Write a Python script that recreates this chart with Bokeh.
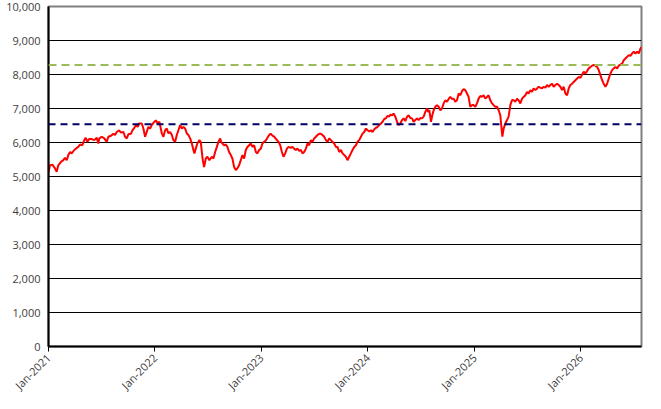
import math
from datetime import datetime, timedelta
from bokeh.plotting import figure
from bokeh.models import Range1d, FixedTicker, NumeralTickFormatter, Span, DatetimeTickFormatter
from bokeh.embed import file_html
from bokeh.resources import INLINE

# positions, in years after 1 Jan 2021
t_years = [
    0.000, 0.014, 0.036, 0.061, 0.077, 0.092, 0.117, 0.139, 0.155, 0.171, 0.186, 0.202, 0.218, 0.242,
    0.265, 0.280, 0.296, 0.318, 0.336, 0.350, 0.365, 0.381, 0.406, 0.430, 0.453, 0.468, 0.477, 0.500,
    0.524, 0.547, 0.562, 0.587, 0.609, 0.625, 0.641, 0.663, 0.681, 0.703, 0.719, 0.735, 0.750, 0.775,
    0.788, 0.806, 0.820, 0.838, 0.851, 0.876, 0.891, 0.907, 0.923, 0.938, 0.954, 0.970, 0.989, 1.008,
    1.026, 1.041,
    1.064, 1.079, 1.095, 1.111, 1.126, 1.142, 1.158, 1.173, 1.189, 1.205, 1.220, 1.236, 1.252, 1.267,
    1.283, 1.299, 1.314, 1.330, 1.346, 1.361, 1.370, 1.383, 1.398, 1.417, 1.430, 1.440, 1.449, 1.461,
    1.477, 1.492, 1.511, 1.534, 1.549, 1.565, 1.581, 1.596, 1.612, 1.621, 1.633, 1.649, 1.665, 1.680,
    1.696, 1.712, 1.727, 1.743, 1.759, 1.774, 1.790, 1.806, 1.821, 1.837, 1.853, 1.868, 1.884, 1.900,
    1.915, 1.931, 1.947, 1.962, 1.978, 1.994, 2.009, 2.025, 2.041, 2.056, 2.072, 2.086, 2.103, 2.119,
    2.135, 2.160, 2.176, 2.192, 2.207, 2.223, 2.239, 2.254, 2.276, 2.291, 2.307, 2.323, 2.338, 2.354,
    2.370, 2.385, 2.401, 2.417, 2.432, 2.448, 2.464, 2.479, 2.495, 2.511, 2.526, 2.542, 2.558, 2.573,
    2.589, 2.605, 2.620, 2.636, 2.652, 2.667, 2.683, 2.699, 2.714, 2.730, 2.746, 2.761, 2.777, 2.793,
    2.808, 2.824, 2.840, 2.855, 2.871, 2.887, 2.902, 2.918, 2.934, 2.949, 2.965, 2.981, 2.996, 3.012,
    3.028, 3.043, 3.059, 3.075, 3.090, 3.106, 3.122, 3.137, 3.153, 3.169, 3.184, 3.200,
    3.210, 3.226, 3.241, 3.257, 3.273, 3.288, 3.304, 3.320, 3.335, 3.351, 3.367, 3.382, 3.398, 3.414,
    3.429, 3.445, 3.461, 3.476, 3.492, 3.508, 3.523, 3.539, 3.555, 3.564, 3.576, 3.592, 3.604, 3.617,
    3.633, 3.648, 3.664, 3.680, 3.695, 3.711, 3.726, 3.742, 3.758, 3.773, 3.789, 3.805, 3.820, 3.836,
    3.852, 3.868, 3.883, 3.898, 3.914, 3.930, 3.945, 3.961, 3.977, 3.992, 4.008, 4.024, 4.039, 4.055,
    4.071, 4.086, 4.102, 4.118, 4.133, 4.149, 4.165, 4.180, 4.196, 4.212, 4.227, 4.243, 4.253, 4.262,
    4.274, 4.290, 4.306, 4.321, 4.337, 4.353, 4.368, 4.383,
    4.400, 4.415, 4.431, 4.447, 4.462, 4.478, 4.494, 4.509, 4.525, 4.541, 4.556, 4.572, 4.588, 4.603,
    4.619, 4.635, 4.650, 4.666, 4.682, 4.697, 4.713, 4.729, 4.744, 4.760, 4.776, 4.791, 4.807, 4.823,
    4.838, 4.854, 4.870, 4.885, 4.901, 4.917, 4.932, 4.948, 4.964, 4.979, 4.995, 5.011, 5.026, 5.042,
    5.058, 5.073, 5.089, 5.105, 5.120, 5.136, 5.152, 5.167, 5.183, 5.199, 5.214, 5.230, 5.246, 5.261,
    5.277, 5.293, 5.308, 5.324, 5.340, 5.355, 5.371, 5.387, 5.402, 5.418, 5.434, 5.449, 5.465, 5.481,
    5.496, 5.512, 5.528, 5.543, 5.559, 5.568,
]

values = [
    5120, 5330, 5350, 5240, 5140, 5330, 5430, 5480, 5550, 5480, 5630, 5720, 5680, 5780,
    5840, 5870, 5940, 5920, 6070, 6140, 6020, 6100, 6100, 6070, 6140, 5970, 6120, 6170,
    6120, 6020, 6170, 6200, 6260, 6220, 6310, 6360, 6290, 6310, 6170, 6120, 6240, 6260,
    6360, 6430, 6510, 6460, 6560, 6560, 6410, 6170, 6310, 6460, 6410, 6510, 6590, 6650,
    6560, 6610,
    6270, 6170, 6360, 6410, 6270, 6310, 6220, 6070, 6020, 6220, 6360, 6510, 6410, 6460,
    6410, 6270, 6220, 6120, 5970, 5780, 5680, 5820, 5970, 6070, 6020, 5720, 5480, 5280,
    5530, 5580, 5480, 5580, 5530, 5720, 5870, 6020, 6120, 6020, 5970, 5920, 5940, 5870,
    5720, 5630, 5530, 5280, 5190, 5240, 5330, 5480, 5630, 5530, 5780, 5870, 5920, 5970,
    5870, 5920, 5720, 5680, 5780, 5820, 5970, 6020, 6060, 6140, 6220, 6260, 6200, 6170,
    6110, 6020, 5920, 5720, 5580, 5680, 5820, 5870, 5840, 5870, 5820, 5780, 5820, 5750,
    5780, 5680, 5720, 5820, 5970, 5920, 6070, 6020, 6120, 6170, 6220, 6260, 6260, 6220,
    6170, 6070, 6020, 6120, 6070, 6020, 5970, 5870, 5870, 5720, 5780, 5680, 5630, 5580,
    5480, 5580, 5680, 5780, 5870, 5920, 6020, 6070, 6170, 6260, 6310, 6410, 6360, 6330,
    6360, 6310, 6390, 6430, 6460, 6510, 6560, 6610, 6690, 6720, 6780, 6760,
    6820, 6800, 6850, 6760, 6610, 6510, 6560, 6660, 6710, 6630, 6760, 6800, 6720, 6710,
    6610, 6660, 6710, 6660, 6720, 6710, 6760, 6900, 7000, 6900, 6950, 6610, 6800, 6950,
    7050, 7100, 7050, 6950, 7000, 7150, 7240, 7200, 7280, 7340, 7280, 7290, 7200, 7240,
    7440, 7390, 7510, 7570, 7540, 7440, 7340, 7050, 7100, 7100, 7050, 7150, 7290, 7370,
    7340, 7390, 7290, 7340, 7390, 7240, 7150, 7100, 7050, 7050, 6950, 6800, 6460, 6170,
    6410, 6560, 6660, 6760, 7100, 7250, 7240, 7200,
    7290, 7240, 7150, 7290, 7340, 7390, 7490, 7440, 7540, 7490, 7590, 7540, 7590, 7640,
    7610, 7590, 7640, 7610, 7690, 7640, 7690, 7730, 7640, 7690, 7730, 7690, 7640, 7540,
    7640, 7440, 7390, 7590, 7690, 7730, 7780, 7830, 7880, 7930, 7900, 8000, 8080, 8030,
    8100, 8180, 8220, 8260, 8280, 8260, 8220, 8130, 7980, 7830, 7730, 7640, 7730, 7880,
    8030, 8130, 8180, 8220, 8180, 8260, 8290, 8320, 8420, 8470, 8520, 8570, 8550, 8620,
    8670, 8620, 8670, 8620, 8760, 8810,
]

upper_level = 8280
mean_level = 6540

y_ticks = list(range(0, 10001, 1000))
grid_levels = list(range(1000, 10000, 1000))
x_tick_years = [2021, 2022, 2023, 2024, 2025, 2026]

epoch = datetime(1970, 1, 1)
start = datetime(2021, 1, 1)
dates = [start + timedelta(days=t * 365.25) for t in t_years]
x_ticks_ms = [(datetime(y, 1, 1) - epoch).total_seconds() * 1000 for y in x_tick_years]

p = figure(width=655, height=401, x_axis_type="datetime",
           output_backend="svg", toolbar_location=None,
           x_range=Range1d(start, datetime(2026, 7, 28)),
           y_range=Range1d(0, 10000),
           min_border_left=48, min_border_right=14, min_border_top=6, min_border_bottom=55)

p.background_fill_color = "white"
p.border_fill_color = "white"
p.outline_line_color = "#808080"
p.outline_line_width = 2

p.line(dates, values, line_color="#FF0000", line_width=2)

p.add_layout(Span(location=upper_level, dimension="width", line_color="#9BBB59",
                  line_width=2, line_dash="8 5"))
p.add_layout(Span(location=mean_level, dimension="width", line_color="#000066",
                  line_width=2, line_dash="7 5"))

p.xgrid.grid_line_color = None
p.ygrid.ticker = FixedTicker(ticks=grid_levels)
p.ygrid.grid_line_color = "black"
p.ygrid.grid_line_width = 1

p.yaxis.ticker = FixedTicker(ticks=y_ticks)
p.yaxis.formatter = NumeralTickFormatter(format="0,0")
p.yaxis.major_tick_out = 0
p.yaxis.major_tick_in = 0
p.yaxis.minor_tick_line_color = None
p.yaxis.major_label_standoff = 8

p.xaxis.ticker = FixedTicker(ticks=x_ticks_ms)
p.xaxis.formatter = DatetimeTickFormatter(years="%b-%Y", months="%b-%Y", days="%b-%Y")
p.xaxis.major_label_orientation = math.pi / 4
p.xaxis.major_tick_out = 5
p.xaxis.major_tick_in = 0
p.xaxis.minor_tick_line_color = None
p.xaxis.major_label_standoff = 4

for ax in (p.xaxis, p.yaxis):
    ax.axis_line_color = "black"
    ax.axis_line_width = 2
    ax.major_tick_line_color = "black"
    ax.major_label_text_font = "Open Sans"
    ax.major_label_text_font_size = "11px"
    ax.major_label_text_color = "#404040"

open("out.html", "w").write(file_html(p, INLINE))
